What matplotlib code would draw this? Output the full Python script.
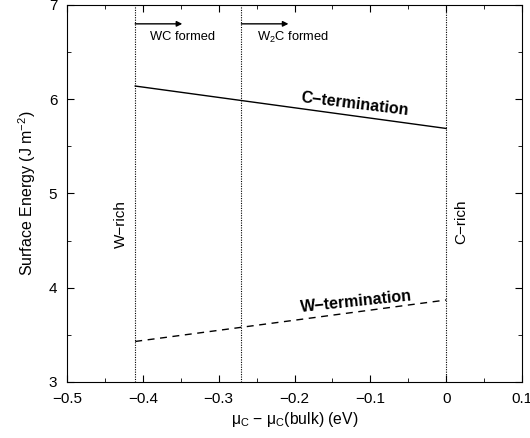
import matplotlib
matplotlib.use('Agg')
import matplotlib.pyplot as plt

plt.rcParams['font.family'] = ['Liberation Sans', 'DejaVu Sans']
plt.rcParams['mathtext.fontset'] = 'custom'
plt.rcParams['mathtext.rm'] = 'Liberation Sans'
plt.rcParams['mathtext.it'] = 'Liberation Sans'

# chemical potential range and surface energies
mu_range = [-0.41, 0.0]
c_term = [6.14, 5.69]
w_term = [3.43, 3.87]
boundaries = [-0.41, -0.27, 0.0]

fig = plt.figure(figsize=(5.3, 4.38), dpi=100)
ax = fig.add_axes([0.1264, 0.1279, 0.8586, 0.8607])

ax.plot(mu_range, c_term, color='black', lw=1)
ax.plot(mu_range, w_term, color='black', lw=1, ls=(0, (5, 4)))

for b in boundaries:
    ax.axvline(b, color='black', lw=0.8, ls=(0, (1, 1.2)))

# arrows for phase formation
ax.annotate('', xy=(-0.348, 6.80), xytext=(-0.41, 6.80),
            arrowprops=dict(arrowstyle='-|>', color='black', lw=1, mutation_scale=8,
                            shrinkA=0, shrinkB=0))
ax.annotate('', xy=(-0.208, 6.80), xytext=(-0.27, 6.80),
            arrowprops=dict(arrowstyle='-|>', color='black', lw=1, mutation_scale=8,
                            shrinkA=0, shrinkB=0))
ax.text(-0.391, 6.66, 'WC formed', fontsize=9.3, va='center')
ax.text(-0.250, 6.66, r'W$_2$C formed', fontsize=9.3, va='center')

ax.text(-0.429, 4.68, 'W\u2212rich', rotation=90, fontsize=11, ha='center', va='center')
ax.text(0.020, 4.70, 'C\u2212rich', rotation=90, fontsize=11, ha='center', va='center')

ax.text(-0.120, 5.95, 'C\u2212termination', rotation=-7, fontsize=11.5,
        fontweight='bold', ha='center', va='center')
ax.text(-0.119, 3.85, 'W\u2212termination', rotation=6, fontsize=11.5,
        fontweight='bold', ha='center', va='center')

ax.set_xlim(-0.5, 0.1)
ax.set_ylim(3, 7)
ax.set_xticks([-0.5, -0.4, -0.3, -0.2, -0.1, 0, 0.1])
ax.set_xticklabels(['\u22120.5', '\u22120.4', '\u22120.3', '\u22120.2', '\u22120.1', '0', '0.1'])
ax.set_xticks([-0.45, -0.35, -0.25, -0.15, -0.05, 0.05], minor=True)
ax.set_yticks([3, 4, 5, 6, 7])
ax.set_yticks([3.5, 4.5, 5.5, 6.5], minor=True)
ax.tick_params(direction='in', top=True, right=True, labelsize=11, length=5, pad=7)
ax.tick_params(which='minor', direction='in', top=True, right=True, length=3)

ax.set_xlabel('$\\mu_{\\rm C}$ \u2212 $\\mu_{\\rm C}$(bulk) (eV)', fontsize=11.3, labelpad=3)
ax.set_ylabel(r'Surface Energy (J m$^{-2}$)', fontsize=11.5, labelpad=8)

fig.savefig('out.png', dpi=100)
